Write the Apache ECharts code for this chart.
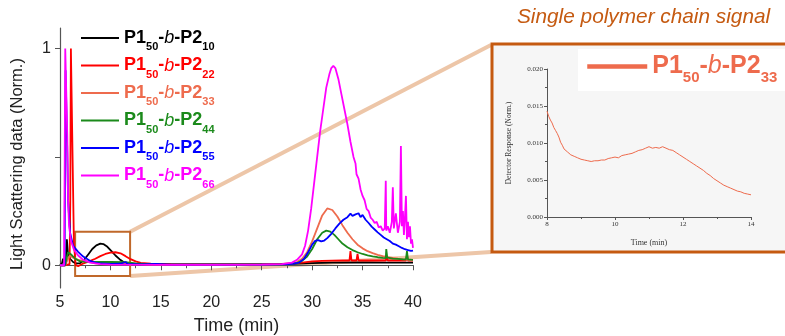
<!DOCTYPE html>
<html>
<head>
<meta charset="utf-8">
<script src="https://cdn.jsdelivr.net/npm/echarts@6/dist/echarts.min.js"></script>
<style>
  html, body { margin: 0; padding: 0; background: #ffffff; }
  #chart { width: 785px; height: 336px; }
</style>
</head>
<body>
<div id="chart"></div>
<script>
// Block length of the P2 segment for each sample
const blockSizes = ['10', '22', '33', '44', '55', '66'];
const seriesColors = ['#000000', '#FF0000', '#EE6B4D', '#1B8A1B', '#0000FF', '#FF00FF'];

// Light scattering traces: [time (min), normalised signal]
const p2_10 = [[5,0],[5.2,0.01],[5.3,0.03],[5.4,0.01],[5.6,0.005],[5.68,0.12],[5.78,0.06],[6.0,0.03],[6.3,0.015],[6.6,0.008],[7.0,0.01],[7.4,0.025],[7.8,0.05],[8.2,0.075],[8.6,0.092],[9.0,0.1],[9.3,0.098],[9.7,0.085],[10.1,0.065],[10.5,0.045],[10.9,0.028],[11.3,0.015],[11.8,0.008],[12.5,0.005],[15,0.004],[20,0.004],[25,0.004],[28,0.006],[30,0.01],[32,0.012],[35,0.013],[38,0.012],[40,0.012]];

const p2_22 = [[5,0],[5.5,0],[5.95,0.005],[6.02,0.3],[6.08,1.0],[6.2,1.0],[6.28,0.4],[6.38,0.1],[6.55,0.0],[6.8,-0.004],[7.2,0.006],[7.6,0.013],[8.0,0.02],[8.5,0.03],[9.0,0.042],[9.5,0.052],[10.0,0.058],[10.5,0.06],[11.0,0.055],[11.5,0.042],[12.0,0.028],[12.5,0.018],[13.0,0.011],[14,0.007],[16,0.005],[20,0.004],[25,0.004],[27,0.006],[29,0.012],[30,0.018],[31,0.02],[32,0.021],[33,0.022],[33.7,0.022],[33.8,0.065],[33.9,0.022],[34.4,0.022],[34.5,0.052],[34.6,0.022],[36,0.022],[37.3,0.022],[37.4,0.04],[37.5,0.022],[39.3,0.022],[39.4,0.045],[39.5,0.022],[40,0.022]];

const p2_33 = [[5,0],[5.5,0],[5.8,0.03],[6.0,0.045],[6.3,0.035],[6.8,0.025],[7.3,0.02],[8,0.014],[8.5,0.009],[9,0.0078],[9.5,0.0076],[10,0.0082],[10.5,0.0087],[11,0.0095],[11.5,0.0093],[12,0.008],[12.5,0.0064],[13,0.005],[13.5,0.0038],[14,0.003],[16,0.002],[20,0.002],[25,0.002],[27,0.004],[28,0.008],[28.5,0.015],[29,0.03],[29.5,0.06],[30,0.11],[30.5,0.17],[31,0.23],[31.5,0.262],[32,0.255],[32.5,0.225],[33,0.185],[33.5,0.15],[34,0.12],[34.5,0.095],[35,0.078],[35.5,0.065],[36,0.056],[36.5,0.048],[37,0.042],[37.5,0.038],[38,0.034],[38.5,0.03],[39,0.027],[39.5,0.025],[40,0.023]];

const p2_44 = [[5,0],[5.5,0],[5.8,0.06],[6.1,0.05],[6.5,0.03],[7,0.018],[8,0.015],[10,0.015],[11.5,0.014],[12.5,0.008],[14,0.004],[20,0.003],[27,0.004],[28.5,0.01],[29,0.02],[29.5,0.04],[30,0.075],[30.5,0.12],[31,0.15],[31.4,0.16],[31.8,0.155],[32.2,0.14],[32.6,0.12],[33,0.1],[33.5,0.083],[34,0.07],[34.5,0.06],[35,0.052],[35.5,0.046],[36,0.041],[36.5,0.037],[37,0.034],[37.3,0.033],[37.35,0.075],[37.45,0.035],[38,0.031],[38.5,0.029],[39,0.027],[39.3,0.027],[39.4,0.065],[39.5,0.027],[40,0.025]];

const p2_55 = [[5,0],[5.46,0],[5.5,0.5],[5.55,0.9],[5.64,0.9],[5.71,0.55],[5.8,0.3],[6.0,0.15],[6.3,0.09],[6.8,0.062],[7.3,0.04],[8,0.02],[8.5,0.012],[9,0.008],[10,0.006],[11,0.007],[11.5,0.015],[11.7,0.006],[13,0.004],[14.5,0.006],[16,0.003],[20,0.003],[25,0.003],[27,0.004],[28,0.006],[28.7,0.012],[29.2,0.03],[29.6,0.06],[30,0.095],[30.3,0.113],[30.6,0.116],[30.9,0.11],[31.2,0.114],[31.5,0.125],[31.9,0.145],[32.3,0.17],[32.7,0.192],[33.1,0.21],[33.5,0.222],[33.8,0.238],[34.0,0.228],[34.3,0.235],[34.6,0.24],[34.8,0.222],[35.0,0.232],[35.3,0.21],[35.6,0.195],[35.9,0.178],[36.2,0.165],[36.5,0.152],[36.8,0.14],[37.1,0.128],[37.4,0.12],[37.7,0.112],[38.0,0.1],[38.3,0.095],[38.6,0.088],[38.9,0.08],[39.2,0.074],[39.5,0.07],[39.8,0.066],[40,0.068]];

const p2_66 = [[5,0],[5.4,0],[5.47,0.5],[5.52,1.0],[5.65,1.0],[5.72,0.6],[5.8,0.3],[5.9,0.18],[6.1,0.11],[6.4,0.07],[6.8,0.045],[7.3,0.025],[8,0.012],[9,0.005],[10,0.003],[15,0.002],[20,0.002],[25,0.003],[27,0.005],[28,0.012],[28.5,0.025],[29,0.05],[29.3,0.09],[29.6,0.16],[29.9,0.26],[30.2,0.38],[30.5,0.5],[30.8,0.62],[31.1,0.72],[31.4,0.82],[31.7,0.88],[31.9,0.91],[32.1,0.92],[32.3,0.91],[32.6,0.86],[32.9,0.79],[33.2,0.72],[33.5,0.65],[33.8,0.57],[34.1,0.5],[34.3,0.47],[34.4,0.42],[34.6,0.4],[34.8,0.35],[35.0,0.32],[35.2,0.3],[35.4,0.26],[35.6,0.25],[35.8,0.22],[36.0,0.21],[36.2,0.195],[36.4,0.2],[36.6,0.175],[36.8,0.18],[37.0,0.16],[37.2,0.17],[37.3,0.39],[37.35,0.16],[37.5,0.18],[37.7,0.15],[37.9,0.2],[38.0,0.36],[38.1,0.17],[38.3,0.24],[38.5,0.15],[38.7,0.2],[38.8,0.55],[38.9,0.18],[39.0,0.25],[39.1,0.14],[39.2,0.22],[39.3,0.32],[39.4,0.12],[39.5,0.2],[39.6,0.13],[39.7,0.18],[39.8,0.1],[39.9,0.12],[40,0.08]];

const traces = [p2_10, p2_22, p2_33, p2_44, p2_55, p2_66];

// Zoomed detector response of the P2_33 sample, 8-14 min
const insetTrace = [[8.0,0.0143],[8.05,0.0136],[8.1,0.0131],[8.15,0.0127],[8.2,0.0121],[8.25,0.0117],[8.3,0.0113],[8.35,0.0108],[8.4,0.0101],[8.45,0.0097],[8.5,0.0092],[8.6,0.0088],[8.7,0.0084],[8.8,0.0082],[8.9,0.0080],[9.0,0.0078],[9.1,0.0077],[9.2,0.0076],[9.3,0.0075],[9.4,0.0076],[9.5,0.0076],[9.6,0.0077],[9.7,0.0077],[9.8,0.0079],[9.9,0.0080],[10.0,0.0081],[10.1,0.0080],[10.2,0.0083],[10.3,0.0084],[10.4,0.0085],[10.5,0.0086],[10.6,0.0088],[10.7,0.0090],[10.8,0.0091],[10.9,0.0093],[11.0,0.0095],[11.1,0.0093],[11.2,0.0094],[11.3,0.0093],[11.4,0.0095],[11.5,0.0093],[11.6,0.0091],[11.7,0.0090],[11.8,0.0087],[11.9,0.0084],[12.0,0.0081],[12.1,0.0078],[12.2,0.0075],[12.3,0.0072],[12.4,0.0069],[12.5,0.0066],[12.6,0.0063],[12.7,0.0059],[12.8,0.0056],[12.9,0.0052],[13.0,0.0049],[13.1,0.0046],[13.2,0.0043],[13.3,0.0041],[13.4,0.0039],[13.5,0.0037],[13.6,0.0035],[13.7,0.0034],[13.8,0.0032],[13.9,0.0031],[14.0,0.0030]];

// Zoom window marked on the main plot: [time, signal] corners
const zoomBoxStart = [6.5, 0.155];
const zoomBoxEnd = [11.95, -0.05];

const mainYLabels = [0, 1];
const mainYTicks = [0, 0.5, 1];

const SANS = '"Liberation Sans", Arial, sans-serif';
const SERIF = '"Liberation Serif", "Times New Roman", serif';
const ORANGE = '#C55A11';
const BOX = '#C0682A';
const CONNECT = '#EDC6A8';

const seriesName = s => 'P1_50-b-P2_' + s;
const subOf = name => name.split('_').pop();

function legendRich(big) {
  const f = big ? 25 : 18, sf = big ? 15 : 11, h = big ? 24 : 17, sh = big ? 15 : 11, pad = big ? 16 : 12;
  return {
    p: { fontFamily: SANS, fontWeight: 'bold', fontSize: f, lineHeight: h, height: h, verticalAlign: 'top' },
    i: { fontFamily: SANS, fontStyle: 'italic', fontWeight: 'normal', fontSize: f, lineHeight: h, height: h, verticalAlign: 'top' },
    s: { fontFamily: SANS, fontWeight: 'bold', fontSize: sf, lineHeight: sh, height: sh, padding: [pad, 0, 0, 0], verticalAlign: 'top' }
  };
}
const legendText = name => '{p|P1}{s|50}{p|-}{i|b}{p|-P2}{s|' + subOf(name) + '}';

const series = traces.map((d, k) => ({
  name: seriesName(blockSizes[k]),
  type: 'line',
  xAxisIndex: 0, yAxisIndex: 0,
  data: d,
  showSymbol: false,
  symbol: 'none',
  lineStyle: { color: seriesColors[k], width: 1.8 },
  itemStyle: { color: seriesColors[k] },
  animation: false
}));

series[0].markArea = {
  silent: true,
  itemStyle: { color: 'rgba(0,0,0,0)', borderColor: BOX, borderWidth: 2 },
  data: [[{ coord: zoomBoxStart }, { coord: zoomBoxEnd }]]
};

series.push({
  name: seriesName('33'),
  type: 'line',
  xAxisIndex: 1, yAxisIndex: 1,
  data: insetTrace,
  showSymbol: false,
  symbol: 'none',
  lineStyle: { color: seriesColors[2], width: 1 },
  itemStyle: { color: seriesColors[2] },
  animation: false,
  z: 5
});

const option = {
  animation: false,
  backgroundColor: '#ffffff',
  title: {
    text: 'Single polymer chain signal',
    left: 517, top: 7, padding: 0,
    textStyle: { fontFamily: SANS, fontStyle: 'italic', fontWeight: 'normal', fontSize: 20.8, color: ORANGE }
  },
  legend: [
    {
      orient: 'vertical', left: 80, top: 29, padding: 0,
      itemWidth: 38, itemHeight: 14, itemGap: 4,
      selectedMode: false,
      data: blockSizes.map((s, k) => ({ name: seriesName(s), textStyle: { color: seriesColors[k] } })),
      formatter: legendText,
      itemStyle: { opacity: 0, borderWidth: 0 },
      lineStyle: { width: 2 },
      textStyle: { rich: legendRich(false) }
    },
    {
      orient: 'vertical', left: 585, top: 54, padding: 0,
      itemWidth: 60, itemHeight: 20, itemGap: 0,
      selectedMode: false,
      data: [{ name: seriesName('33'), textStyle: { color: seriesColors[2] } }],
      formatter: legendText,
      itemStyle: { opacity: 0, borderWidth: 0 },
      lineStyle: { width: 4.5 },
      textStyle: { rich: legendRich(true) }
    }
  ],
  grid: [
    { left: 60, right: 372, top: 28, bottom: 48, containLabel: false, outerBoundsMode: 'none' },
    { left: 547, right: 34, top: 69, bottom: 119, containLabel: false, outerBoundsMode: 'none' }
  ],
  xAxis: [
    {
      gridIndex: 0, type: 'value', min: 5, max: 40, interval: 5,
      name: 'Time (min)', nameLocation: 'middle', nameGap: 29,
      nameTextStyle: { fontFamily: SANS, fontSize: 18, color: '#222' },
      axisLine: { lineStyle: { color: '#555', width: 1.2 } },
      axisTick: { length: 5, lineStyle: { color: '#555' } },
      minorTick: { show: true, splitNumber: 2, length: 3, lineStyle: { color: '#555' } },
      splitLine: { show: false },
      axisLabel: { fontFamily: SANS, fontSize: 16, color: '#222', margin: 7 }
    },
    {
      gridIndex: 1, type: 'value', min: 8, max: 14, interval: 2,
      name: 'Time (min)', nameLocation: 'middle', nameGap: 22,
      nameTextStyle: { fontFamily: SERIF, fontSize: 8, color: '#333' },
      axisLine: { lineStyle: { color: '#555', width: 1 } },
      axisTick: { length: 3, lineStyle: { color: '#555' } },
      minorTick: { show: true, splitNumber: 2, length: 2, lineStyle: { color: '#555' } },
      splitLine: { show: false },
      axisLabel: { fontFamily: SERIF, fontSize: 7, color: '#333', margin: 4 }
    }
  ],
  yAxis: [
    {
      gridIndex: 0, type: 'value', min: -0.105, max: 1.095,
      axisLine: { show: true, lineStyle: { color: '#555', width: 1.2 } },
      axisTick: { show: true, length: 5, customValues: mainYTicks, lineStyle: { color: '#555' } },
      axisLabel: { customValues: mainYLabels, fontFamily: SANS, fontSize: 16, color: '#222', margin: 9 },
      splitLine: { show: false }
    },
    {
      gridIndex: 1, type: 'value', min: 0, max: 0.02, interval: 0.005,
      name: 'Detector Response (Norm.)', nameLocation: 'middle', nameGap: 34,
      nameTextStyle: { fontFamily: SERIF, fontSize: 7.5, color: '#333' },
      axisLine: { show: true, lineStyle: { color: '#555', width: 1 } },
      axisTick: { show: true, length: 3, lineStyle: { color: '#555' } },
      minorTick: { show: true, splitNumber: 2, length: 2, lineStyle: { color: '#555' } },
      axisLabel: { fontFamily: SERIF, fontSize: 7, color: '#333', margin: 4, formatter: v => v.toFixed(3) },
      splitLine: { show: false }
    }
  ],
  series: series
};

const chart = echarts.init(document.getElementById('chart'), null, { renderer: 'canvas' });
chart.setOption(option);

// Lines joining the zoom window to the magnified panel
const boxTopRight = chart.convertToPixel({ gridIndex: 0 }, [zoomBoxEnd[0], zoomBoxStart[1]]);
const boxBottomRight = chart.convertToPixel({ gridIndex: 0 }, [zoomBoxEnd[0], zoomBoxEnd[1]]);
const panel = { x: 492, y: 44, w: 305, h: 208 };

chart.setOption({
  graphic: {
    elements: [
      { type: 'rect', z: -1, silent: true, shape: { x: panel.x, y: panel.y, width: panel.w, height: panel.h }, style: { fill: '#F6F6F6' } },
      { type: 'rect', z: -1, silent: true, shape: { x: 578, y: 49, width: 220, height: 42 }, style: { fill: '#FFFFFF' } },
      { type: 'rect', z: 50, silent: true, shape: { x: panel.x, y: panel.y, width: panel.w, height: panel.h }, style: { fill: 'none', stroke: ORANGE, lineWidth: 3 } },
      { type: 'line', z: -1, silent: true, shape: { x1: boxTopRight[0], y1: boxTopRight[1], x2: panel.x - 1, y2: panel.y + 1 }, style: { stroke: CONNECT, lineWidth: 4 } },
      { type: 'line', z: -1, silent: true, shape: { x1: boxBottomRight[0], y1: boxBottomRight[1], x2: panel.x - 1, y2: panel.y + panel.h }, style: { stroke: CONNECT, lineWidth: 4 } },
      { type: 'text', silent: true, x: 17, y: 164, rotation: Math.PI / 2,
        style: { text: 'Light Scattering data (Norm.)', font: '16.5px ' + SANS, fill: '#222', align: 'center', verticalAlign: 'middle' } }
    ]
  }
});
</script>
</body>
</html>
